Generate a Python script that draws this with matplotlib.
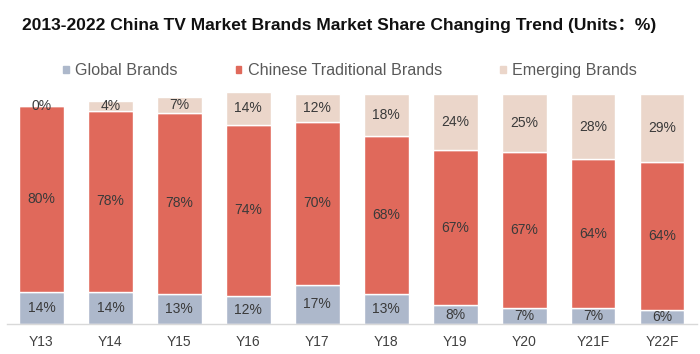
import matplotlib
matplotlib.use('Agg')
import matplotlib.pyplot as plt
from matplotlib.patches import Rectangle
import numpy as np

plt.rcParams['font.family'] = ['Liberation Sans', 'Noto Sans CJK SC', 'DejaVu Sans']

# data
years = ["Y13", "Y14", "Y15", "Y16", "Y17", "Y18", "Y19", "Y20", "Y21F", "Y22F"]
global_brands = [14, 14, 13, 12, 17, 13, 8, 7, 7, 6]
chinese_brands = [80, 78, 78, 74, 70, 68, 67, 67, 64, 64]
emerging_brands = [0, 4, 7, 14, 12, 18, 24, 25, 28, 29]
series_names = ["Global Brands", "Chinese Traditional Brands", "Emerging Brands"]
colors = ["#ADB8CB", "#E0695B", "#EBD6CA"]
title = "2013-2022 China TV Market Brands Market Share Changing Trend (Units\uff1a%)"

fig = plt.figure(figsize=(7, 3.54), dpi=100)
ax = fig.add_axes([0.01, 0.0847, 0.985, 0.655])

x = np.arange(len(years))
bottom = np.zeros(len(years))
handles = []
for vals, name, col in zip([global_brands, chinese_brands, emerging_brands], series_names, colors):
    vals = np.array(vals, dtype=float)
    ax.bar(x, vals, 0.65, bottom=bottom, color=col, edgecolor="white", linewidth=1.0, label=name)
    for xi, b, v in zip(x, bottom, vals):
        ax.text(xi, b + v / 2, f"{int(v)}%", ha="center", va="center", fontsize=10, color="#3A3A3A")
    bottom += vals
    handles.append(Rectangle((0, 0), 1, 1, color=col))

ax.set_xlim(-0.5, len(years) - 0.5)
ax.set_ylim(0, 100)
ax.set_xticks(x)
ax.set_xticklabels(years, fontsize=10, color="#404040")
ax.tick_params(axis="x", length=0, pad=8)
ax.set_yticks([])
for s in ["left", "right", "top"]:
    ax.spines[s].set_visible(False)
ax.spines["bottom"].set_color("#D9D9D9")
ax.spines["bottom"].set_linewidth(1.0)

fig.text(0.031, 0.928, title, fontsize=12.5, fontweight="bold", ha="left", va="center", color="#111111")

fig.legend(handles, series_names, loc="center", bbox_to_anchor=(0.5, 0.8), ncol=3, frameon=False,
           fontsize=11.6, labelcolor="#595959", handlelength=0.35, handleheight=0.35,
           handletextpad=0.4, columnspacing=3.6)

fig.savefig("out.png", dpi=100)
